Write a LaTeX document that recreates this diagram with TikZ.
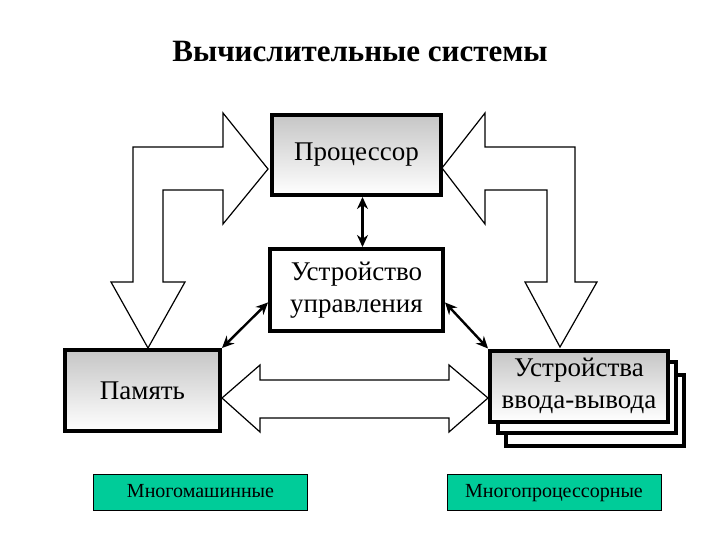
\documentclass[tikz,border=0pt]{standalone}
\usepackage{fontspec}
\setmainfont{Liberation Serif}
\usetikzlibrary{arrows.meta}
\definecolor{mint}{RGB}{0,204,153}
\tikzset{
  unit/.style={draw,line width=4pt,align=center,inner sep=0pt,font=\rmfamily\fontsize{27}{32}\selectfont},
  shaded/.style={unit,top color=gray!45,bottom color=white},
  blockarrow/.style={draw,fill=white,line width=1.2pt,line join=miter},
  link/.style={line width=2.4pt,{Stealth[length=12pt,width=11pt]}-{Stealth[length=12pt,width=11pt]}},
  kind/.style={draw,fill=mint,line width=1pt,minimum width=214pt,minimum height=36pt,text height=14pt,text depth=4pt,font=\rmfamily\fontsize{20}{23}\selectfont}
}

\begin{document}
\begin{tikzpicture}[x=1pt,y=-1pt]
  \useasboundingbox (0,0) rectangle (720,540);
  \node[font=\rmfamily\bfseries\fontsize{31}{36}\selectfont] (title) at (360,52) {Вычислительные системы};

  \draw[blockarrow] (148,348) -- (185,282) -- (163,282) -- (163,190) -- (223,190) -- (223,224) -- (268,169)
    -- (223,113) -- (223,147) -- (133,147) -- (133,282) -- (111,282) -- cycle;
  \draw[blockarrow] (560,347) -- (597,282) -- (575,282) -- (575,147) -- (485,147) -- (485,113) -- (442,168)
    -- (485,224) -- (485,190) -- (547,190) -- (547,282) -- (525,282) -- cycle;
  \draw[blockarrow] (222,398) -- (260,365) -- (260,380) -- (449,380) -- (449,365) -- (488,398)
    -- (449,432) -- (449,418) -- (260,418) -- (260,432) -- cycle;

  \node[shaded,minimum width=169pt,minimum height=80pt] (proc) at (356.5,155) {Процессор};
  \node[unit,fill=white,minimum width=173pt,minimum height=82pt] (ctrl) at (356.5,290) {Устройство\\управления};
  \node[shaded,minimum width=155pt,minimum height=81pt] (mem) at (142.5,390.5) {Память};

  \draw[line width=4pt,fill=white] (506,375) rectangle (684,446);
  \draw[line width=4pt,fill=white] (498,362) rectangle (676,433);
  \node[shaded,minimum width=178pt,minimum height=71pt] (io) at (579,386) {Устройства\\ввода-вывода};

  \draw[link] ([xshift=6pt]proc.south) -- ([xshift=6pt]ctrl.north);
  \draw[link] (ctrl.188) -- (mem.north east);
  \draw[link] (ctrl.-8) -- (io.north west);

  \node[kind] (multimachine) at (200.5,492) {Многомашинные};
  \node[kind] (multiproc) at (554,492) {Многопроцессорные};
\end{tikzpicture}
\end{document}
